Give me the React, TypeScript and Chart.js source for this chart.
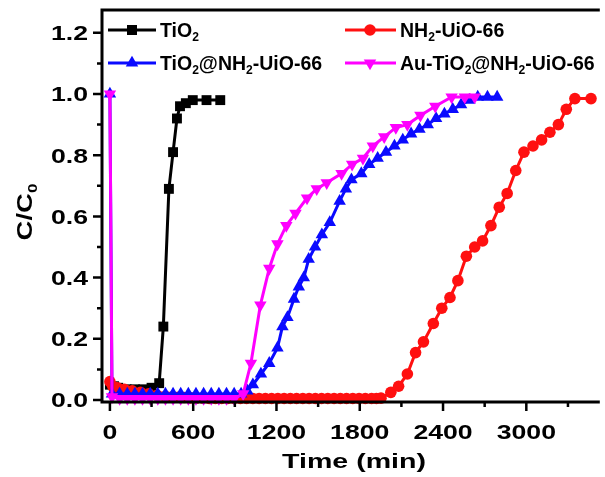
import React, { useEffect, useRef } from 'react';
import { Chart, registerables } from 'chart.js';

Chart.register(...registerables);

// ---------- data ----------
const tio2Time = [0, 30, 60, 120, 180, 240, 300, 355, 385, 425, 455, 483, 505, 547, 597, 696, 795];
const tio2C = [0.05, 0.045, 0.04, 0.035, 0.035, 0.035, 0.04, 0.055, 0.24, 0.69, 0.81, 0.92, 0.96, 0.97, 0.98, 0.98, 0.98];

const nh2Time = [0, 20, 55, 105, 160, 220, 280, 340, 400, 445, 490, 535, 580, 625, 670, 715, 760, 805, 850, 895, 940, 985, 1030, 1075, 1120, 1165, 1210, 1255, 1300, 1345, 1390, 1435, 1480, 1525, 1570, 1615, 1660, 1705, 1750, 1795, 1840, 1885, 1920, 1953, 2024, 2080, 2143, 2202, 2259, 2330, 2391, 2450, 2507, 2568, 2628, 2685, 2745, 2805, 2862, 2924, 2983, 3048, 3110, 3170, 3231, 3288, 3350, 3466];
const nh2C = [0.06, 0.045, 0.04, 0.035, 0.03, 0.025, 0.02, 0.015, 0.012, 0.01, 0.009, 0.008, 0.007, 0.006, 0.006, 0.005, 0.005, 0.005, 0.005, 0.005, 0.005, 0.005, 0.005, 0.005, 0.005, 0.005, 0.005, 0.005, 0.005, 0.005, 0.005, 0.005, 0.005, 0.005, 0.005, 0.005, 0.005, 0.005, 0.005, 0.005, 0.005, 0.005, 0.005, 0.006, 0.025, 0.045, 0.085, 0.155, 0.19, 0.25, 0.3, 0.335, 0.39, 0.47, 0.5, 0.52, 0.57, 0.63, 0.675, 0.75, 0.81, 0.83, 0.85, 0.875, 0.9, 0.95, 0.985, 0.985];

const tiNh2Time = [0, 15, 70, 125, 180, 235, 290, 345, 400, 455, 510, 565, 620, 675, 730, 785, 840, 895, 945, 990, 1030, 1088, 1148, 1207, 1243, 1279, 1326, 1361, 1397, 1432, 1478, 1527, 1584, 1655, 1700, 1740, 1811, 1868, 1929, 1989, 2050, 2110, 2170, 2230, 2290, 2350, 2410, 2470, 2530, 2590, 2650, 2720, 2790];
const tiNh2C = [1.0, 0.02, 0.02, 0.02, 0.02, 0.02, 0.02, 0.02, 0.02, 0.02, 0.02, 0.02, 0.02, 0.02, 0.02, 0.02, 0.02, 0.02, 0.02, 0.03, 0.05, 0.085, 0.12, 0.17, 0.24, 0.27, 0.33, 0.37, 0.4, 0.46, 0.5, 0.54, 0.58, 0.65, 0.69, 0.72, 0.74, 0.77, 0.79, 0.81, 0.83, 0.85, 0.87, 0.885, 0.9, 0.92, 0.935, 0.95, 0.965, 0.98, 0.99, 0.99, 0.99];

const auTime = [0, 15, 70, 125, 180, 235, 290, 345, 400, 455, 510, 565, 620, 675, 730, 785, 840, 895, 960, 1016, 1084, 1148, 1207, 1271, 1337, 1420, 1490, 1562, 1669, 1745, 1823, 1894, 1976, 2060, 2143, 2237, 2344, 2462, 2557, 2628];
const auC = [1.0, 0.01, 0.005, 0.005, 0.005, 0.005, 0.005, 0.005, 0.005, 0.005, 0.005, 0.005, 0.005, 0.005, 0.005, 0.005, 0.005, 0.005, 0.02, 0.12, 0.31, 0.43, 0.51, 0.57, 0.61, 0.66, 0.69, 0.71, 0.74, 0.77, 0.79, 0.83, 0.86, 0.89, 0.9, 0.93, 0.96, 0.99, 0.99, 0.99];

const xTickValues = [0, 600, 1200, 1800, 2400, 3000];
const xTickLabels = ['0', '600', '1200', '1800', '2400', '3000'];
const xMinorValues = [300, 900, 1500, 2100, 2700, 3300];
const yTickValues = [0, 0.2, 0.4, 0.6, 0.8, 1.0, 1.2];
const yTickLabels = ['0.0', '0.2', '0.4', '0.6', '0.8', '1.0', '1.2'];
const yMinorValues = [0.1, 0.3, 0.5, 0.7, 0.9, 1.1];

const BLACK = '#000000';
const RED = '#ff1010';
const BLUE = '#0a0aff';
const MAGENTA = '#ff00ff';

const FONT = '"Liberation Sans", Arial, sans-serif';

type Seg = { t: string; sub?: boolean };

function drawSegs(ctx: CanvasRenderingContext2D, segs: Seg[], x: number, y: number, size: number, stretch: number, align: 'left' | 'center' | 'right') {
  ctx.save();
  const subSize = size * 0.62;
  const widths = segs.map((s) => {
    ctx.font = `bold ${s.sub ? subSize : size}px ${FONT}`;
    return ctx.measureText(s.t).width;
  });
  const total = widths.reduce((a, b) => a + b, 0) * stretch;
  const start = align === 'left' ? x : align === 'right' ? x - total : x - total / 2;
  ctx.translate(start, y + size * 0.36);
  ctx.scale(stretch, 1);
  ctx.textAlign = 'left';
  ctx.textBaseline = 'alphabetic';
  ctx.fillStyle = '#000';
  let cx = 0;
  segs.forEach((s, i) => {
    ctx.font = `bold ${s.sub ? subSize : size}px ${FONT}`;
    ctx.fillText(s.t, cx, s.sub ? size * 0.22 : 0);
    cx += widths[i];
  });
  ctx.restore();
}

function drawMarker(ctx: CanvasRenderingContext2D, kind: string, x: number, y: number, color: string) {
  ctx.save();
  ctx.fillStyle = color;
  ctx.beginPath();
  if (kind === 'rect') {
    ctx.rect(x - 5, y - 5, 10, 10);
  } else if (kind === 'circle') {
    ctx.arc(x, y, 5.8, 0, Math.PI * 2);
  } else if (kind === 'tri') {
    const r = 7.2;
    ctx.moveTo(x, y - r);
    ctx.lineTo(x + r * 0.866, y + r * 0.5);
    ctx.lineTo(x - r * 0.866, y + r * 0.5);
    ctx.closePath();
  } else {
    const r = 7.2;
    ctx.moveTo(x, y + r);
    ctx.lineTo(x + r * 0.866, y - r * 0.5);
    ctx.lineTo(x - r * 0.866, y - r * 0.5);
    ctx.closePath();
  }
  ctx.fill();
  ctx.restore();
}

const decorPlugin = {
  id: 'decor',
  afterDraw(chart: any) {
    const { ctx, chartArea } = chart;
    const xs = chart.scales.x;
    const ys = chart.scales.y;
    const { left, top, right, bottom } = chartArea;
    ctx.save();
    ctx.strokeStyle = '#000';
    ctx.lineWidth = 3;
    ctx.beginPath();
    ctx.moveTo(right + 2, top);
    ctx.lineTo(left, top);
    ctx.lineTo(left, bottom);
    ctx.lineTo(right + 2, bottom);
    ctx.stroke();

    ctx.lineWidth = 2.5;
    ctx.beginPath();
    yTickValues.forEach((v) => {
      const p = ys.getPixelForValue(v);
      ctx.moveTo(left - 9, p);
      ctx.lineTo(left, p);
    });
    yMinorValues.forEach((v) => {
      const p = ys.getPixelForValue(v);
      ctx.moveTo(left - 5, p);
      ctx.lineTo(left, p);
    });
    xTickValues.forEach((v) => {
      const p = xs.getPixelForValue(v);
      ctx.moveTo(p, bottom);
      ctx.lineTo(p, bottom + 9);
    });
    xMinorValues.forEach((v) => {
      const p = xs.getPixelForValue(v);
      ctx.moveTo(p, bottom);
      ctx.lineTo(p, bottom + 5);
    });
    ctx.stroke();

    yTickValues.forEach((v, i) => {
      drawSegs(ctx, [{ t: yTickLabels[i] }], left - 14, ys.getPixelForValue(v), 20.5, 1.3, 'right');
    });
    xTickValues.forEach((v, i) => {
      drawSegs(ctx, [{ t: xTickLabels[i] }], xs.getPixelForValue(v), 432, 20.5, 1.3, 'center');
    });

    drawSegs(ctx, [{ t: 'Time (min)' }], 354, 460, 21, 1.36, 'center');

    ctx.save();
    ctx.translate(24, 212);
    ctx.rotate(-Math.PI / 2);
    drawSegs(ctx, [{ t: 'C/C' }, { t: '0', sub: true }], 0, 0, 22, 1.25, 'center');
    ctx.restore();

    // legend
    const rows = [
      { y: 30, x0: 108, x1: 156, mx: 132, tx: 160, color: BLACK, kind: 'rect', segs: [{ t: 'TiO' }, { t: '2', sub: true }] },
      { y: 30, x0: 345, x1: 396, mx: 370, tx: 400, color: RED, kind: 'circle', segs: [{ t: 'NH' }, { t: '2', sub: true }, { t: '-UiO-66' }] },
      { y: 63, x0: 108, x1: 156, mx: 132, tx: 160, color: BLUE, kind: 'tri', segs: [{ t: 'TiO' }, { t: '2', sub: true }, { t: '@NH' }, { t: '2', sub: true }, { t: '-UiO-66' }] },
      { y: 63, x0: 345, x1: 396, mx: 370, tx: 400, color: MAGENTA, kind: 'itri', segs: [{ t: 'Au-TiO' }, { t: '2', sub: true }, { t: '@NH' }, { t: '2', sub: true }, { t: '-UiO-66' }] },
    ];
    rows.forEach((r) => {
      ctx.strokeStyle = r.color;
      ctx.lineWidth = 3;
      ctx.beginPath();
      ctx.moveTo(r.x0, r.y);
      ctx.lineTo(r.x1, r.y);
      ctx.stroke();
      drawMarker(ctx, r.kind, r.mx, r.y, r.color);
      drawSegs(ctx, r.segs, r.tx, r.y, 19.5, 1.0, 'left');
    });
    ctx.restore();
  },
};

function toPoints(xs: number[], ys: number[]) {
  return xs.map((x, i) => ({ x, y: ys[i] }));
}

export default function App() {
  const ref = useRef<HTMLCanvasElement | null>(null);
  useEffect(() => {
    if (!ref.current) return;
    const chart = new Chart(ref.current, {
      type: 'line',
      data: {
        datasets: [
          {
            label: 'TiO2',
            data: toPoints(tio2Time, tio2C),
            borderColor: BLACK,
            backgroundColor: BLACK,
            pointStyle: 'rect',
            pointRadius: 7,
            pointBorderWidth: 0,
            borderWidth: 3,
            order: 3,
            clip: false,
          },
          {
            label: 'NH2-UiO-66',
            data: toPoints(nh2Time, nh2C),
            borderColor: RED,
            backgroundColor: RED,
            pointStyle: 'circle',
            pointRadius: 5.8,
            pointBorderWidth: 0,
            borderWidth: 3,
            order: 2,
            clip: false,
          },
          {
            label: 'TiO2@NH2-UiO-66',
            data: toPoints(tiNh2Time, tiNh2C),
            borderColor: BLUE,
            backgroundColor: BLUE,
            pointStyle: 'triangle',
            pointRadius: 7.2,
            pointBorderWidth: 0,
            borderWidth: 3,
            order: 1,
            clip: false,
          },
          {
            label: 'Au-TiO2@NH2-UiO-66',
            data: toPoints(auTime, auC),
            borderColor: MAGENTA,
            backgroundColor: MAGENTA,
            pointStyle: 'triangle',
            pointRotation: 180,
            pointRadius: 7.2,
            pointBorderWidth: 0,
            borderWidth: 3,
            order: 0,
            clip: false,
          },
        ],
      },
      options: {
        animation: false,
        responsive: false,
        devicePixelRatio: 1,
        layout: { padding: { left: 102, top: 10, right: 0, bottom: 75 } },
        plugins: { legend: { display: false }, tooltip: { enabled: false } },
        scales: {
          x: { type: 'linear', min: -57, max: 3515, display: false },
          y: { type: 'linear', min: -0.0065, max: 1.2745, display: false },
        },
      },
      plugins: [decorPlugin],
    });
    return () => chart.destroy();
  }, []);
  return (
    <div style={{ position: 'absolute', left: 0, top: 0, width: 605, height: 477, background: '#fff' }}>
      <canvas ref={ref} width={605} height={477} style={{ display: 'block' }} />
    </div>
  );
}
